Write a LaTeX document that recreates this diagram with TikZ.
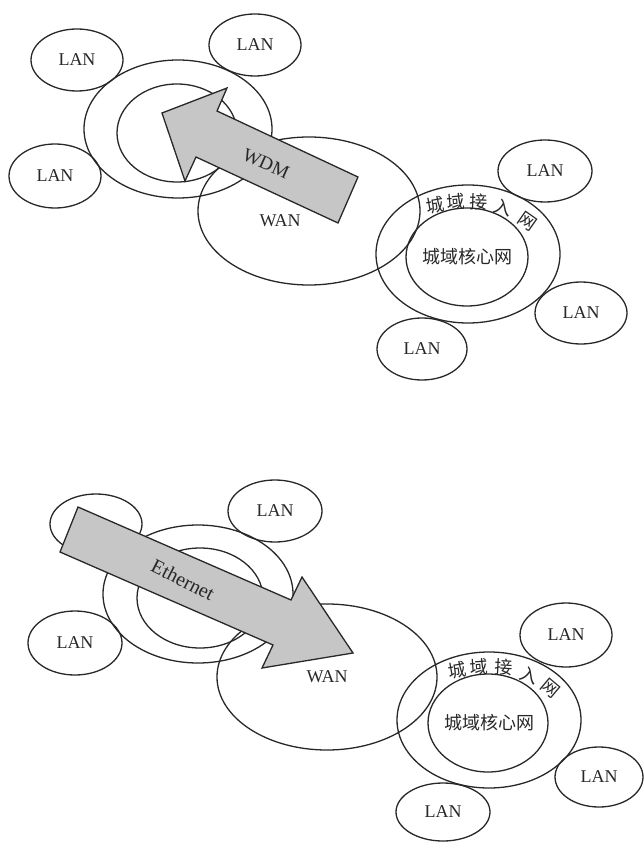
\documentclass[tikz,border=0pt]{standalone}
\usepackage{fontspec}
\setmainfont{Liberation Serif}
\newfontfamily\cjk{Noto Sans CJK SC}
\usetikzlibrary{shapes.geometric}
\definecolor{ink}{RGB}{40,40,40}
\definecolor{arrowfill}{RGB}{198,198,198}
\begin{document}
\begin{tikzpicture}[x=1pt,y=-1pt,
  ln/.style={draw=ink, line width=1.3pt},
  oval/.style={ln, ellipse, inner sep=0pt, text=ink, font=\fontsize{18}{18}\selectfont},
  lan/.style={oval, minimum width=92pt, minimum height=62pt},
  lbl/.style={text=ink, inner sep=0pt, font=\fontsize{18}{18}\selectfont},
  zh/.style={text=ink, inner sep=0pt, font=\cjk\fontsize{18}{18}\selectfont},
  bigarrow/.style={fill=arrowfill, draw=ink, line width=1.3pt, line join=miter}]
\useasboundingbox (0,0) rectangle (644,842);
\fill[white] (0,0) rectangle (644,842);

% ---------------- top diagram ----------------
\node[lan] (t1) at (77,60) {LAN};
\node[lan] (t2) at (255,45) {LAN};
\node[lan, minimum height=64pt] (t3) at (55,176) {LAN};
\node[oval, minimum width=188pt, minimum height=138pt] (tmo) at (178,129) {};
\node[oval, minimum width=120pt, minimum height=98pt] (tmi) at (177,133) {};
\node[oval, minimum width=222pt, minimum height=148pt] (twan) at (309,211) {};
\node[oval, minimum width=184pt, minimum height=138pt] (tro) at (468,254) {};
\node[oval, minimum width=122pt, minimum height=98pt] (tri) at (467,257) {};
\node[lan, minimum width=94pt] (t4) at (545,171) {LAN};
\node[lan] (t5) at (581,313) {LAN};
\node[lan, minimum width=90pt] (t6) at (422,349) {LAN};
\node[lbl] (twanl) at (280,221) {WAN};
\node[zh] (tcore) at (467,257) {城域核心网};
\node[zh, rotate=10] (ta1) at (435,205) {城};
\node[zh, rotate=5] (ta2) at (456,202) {域};
\node[zh, rotate=-2] (ta3) at (479,202) {接};
\node[zh, rotate=-16] (ta4) at (503,208) {入};
\node[zh, rotate=-35] (ta5) at (527,221) {网};

\coordinate (wtip) at (162,113);
\coordinate (wtb) at (227,88);
\coordinate (wti) at (217,111);
\coordinate (wtr) at (358,177);
\coordinate (wbr) at (338,223);
\coordinate (wbi) at (196,157);
\coordinate (wbb) at (185,181);
\draw[bigarrow] (wtip) -- (wtb) -- (wti) -- (wtr) -- (wbr) -- (wbi) -- (wbb) -- cycle;
\node[lbl, rotate=-24, font=\fontsize{19}{19}\selectfont] (wdm) at (266,164) {WDM};

% ---------------- bottom diagram ----------------
\node[lan, minimum height=60pt] (b1) at (96,524) {};
\node[lan, minimum width=94pt] (b2) at (275,511) {LAN};
\node[oval, minimum width=190pt, minimum height=138pt] (bmo) at (198,594) {};
\node[oval, minimum width=126pt, minimum height=100pt] (bmi) at (200,598) {};
\node[lan, minimum width=94pt, minimum height=64pt] (b3) at (75,643) {LAN};
\node[oval, minimum width=220pt, minimum height=146pt] (bwan) at (327,677) {WAN};
\node[oval, minimum width=184pt, minimum height=136pt] (bro) at (489,720) {};
\node[oval, minimum width=120pt, minimum height=98pt] (bri) at (488,723) {};
\node[lan, minimum height=64pt] (b4) at (566,635) {LAN};
\node[lan, minimum width=88pt, minimum height=60pt] (b5) at (599,777) {LAN};
\node[lan, minimum width=94pt, minimum height=58pt] (b6) at (443,812) {LAN};
\node[zh] (bcore) at (489,723) {城域核心网};
\node[zh, rotate=10] (ba1) at (457,670) {城};
\node[zh, rotate=4] (ba2) at (479,667) {域};
\node[zh, rotate=-3] (ba3) at (504,667) {接};
\node[zh, rotate=-20] (ba4) at (529,675) {入};
\node[zh, rotate=-40] (ba5) at (550,688) {网};

\coordinate (etl) at (78,507);
\coordinate (eti) at (291,600);
\coordinate (etb) at (302,577);
\coordinate (etip) at (353,653);
\coordinate (ebb) at (262,668);
\coordinate (ebi) at (273,645);
\coordinate (ebl) at (60,552);
\draw[bigarrow] (etl) -- (eti) -- (etb) -- (etip) -- (ebb) -- (ebi) -- (ebl) -- cycle;
\node[lbl, rotate=-27, font=\fontsize{20}{20}\selectfont] (eth) at (183,580) {Ethernet};
\end{tikzpicture}
\end{document}
